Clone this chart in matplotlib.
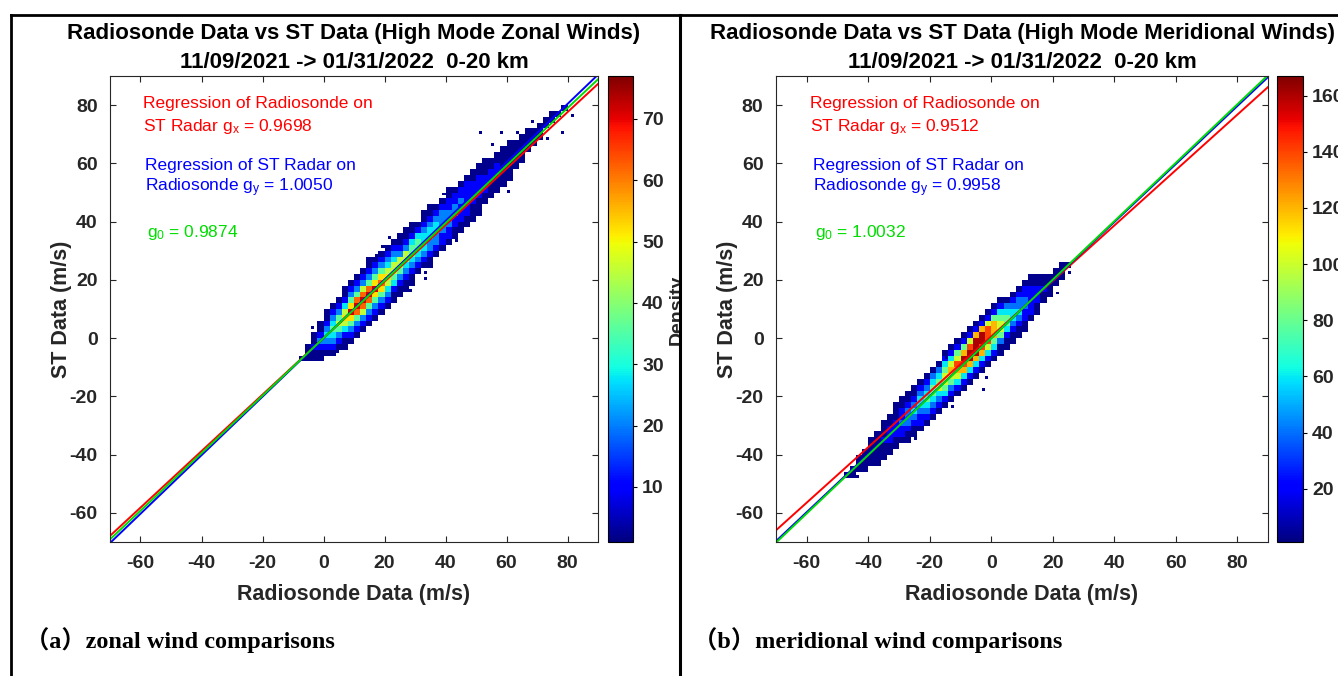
import numpy as np
import matplotlib
matplotlib.use("Agg")
import matplotlib.pyplot as plt
from matplotlib.transforms import Bbox, TransformedBbox

plt.rcParams["font.family"] = ["Liberation Sans", "DejaVu Sans"]
plt.rcParams["font.weight"] = "bold"
plt.rcParams["axes.titleweight"] = "bold"
plt.rcParams["axes.labelweight"] = "bold"
plt.rcParams["axes.unicode_minus"] = False
plt.rcParams["mathtext.default"] = "regular"

# ---- data ----
AX_MIN, AX_MAX = -70, 90
TICKS = [-60, -40, -20, 0, 20, 40, 60, 80]

# density band, one string per 2 m/s x-column, chars = level for (y - x) offsets -12..+12 step 2
ZONAL_X0 = -8
ZONAL_COLS = [
    "0000001000000",
    "0000011100000",
    "0000112110000",
    "0001123211000",
    "0001234321100",
    "0012345432100",
    "0012356532100",
    "0112467642110",
    "0123579753210",
    "0123589853210",
    "0123689863210",
    "0123589853211",
    "0123579753210",
    "0123578753210",
    "0123467643210",
    "0112456643210",
    "0112356632110",
    "0112346632110",
    "0112345542110",
    "0012345542100",
    "0012344432110",
    "0112334432110",
    "0012334432100",
    "0012233332100",
    "0012233322110",
    "0011223322100",
    "0011222322100",
    "0011222222100",
    "0011122221100",
    "0011122221100",
    "0001122211100",
    "0001112211000",
    "0001112211000",
    "0001111111000",
    "0001111111000",
    "0000111110000",
    "0000111110000",
    "0000011110000",
    "0000011100000",
    "0000011100000",
    "0000001100000",
    "0000001100000",
    "0000001000000",
    "0000001000000",
]
ZONAL_LEVELS = [0, 2, 10, 20, 28, 36, 45, 52, 62, 72]
ZONAL_OUT_X = [51.6, 58.5, 63.4, 55.6, 78.5, 81.5, 68.4, 73.6, 60.5, 39.5, 43.8, 33.6, 33.6, 28.4, 21.8, 19.5, 17.5, 3.1, 4.8, -3.4]
ZONAL_OUT_Y = [70.7, 70.7, 70.7, 66.6, 70.7, 76.6, 74.5, 68.7, 50.5, 49.5, 33.3, 22.3, 20.6, 16.2, 34.7, 31.3, 28.5, -4.4, -4.4, 3.5]

MERID_X0 = -48
MERID_COLS = [
    "0000001000000",
    "0000011000000",
    "0000011100000",
    "0000111100000",
    "0000111110000",
    "0001111110000",
    "0001112111000",
    "0001122211000",
    "0001122211100",
    "0001223221100",
    "0011233321100",
    "0011234321100",
    "0012234432100",
    "0012345432100",
    "0012345543100",
    "0012346543100",
    "0012456654210",
    "0012356764210",
    "0012467865210",
    "0012478975210",
    "0012479986210",
    "0012479997210",
    "0012478997210",
    "0012468886210",
    "0012457775210",
    "0011356654210",
    "0011245543100",
    "0011234432100",
    "0011234332100",
    "0011223322100",
    "0001222221100",
    "0001122211000",
    "0000112110000",
    "0000111100000",
    "0000011100000",
    "0000011100000",
    "0000001000000",
]
MERID_LEVELS = [0, 3, 20, 40, 60, 80, 100, 120, 140, 160]
MERID_OUT_X = [-26.2, -24.2, -37.2, -34.9, -44.0, -32.3, -12.2, -2.8, -14.1, -1.1, 21.9, 25.2]
MERID_OUT_Y = [-19.5, -34.3, -32.2, -32.2, -47.7, -39.0, -24.0, -17.5, -6.5, -13.3, 15.8, 22.7]

# regression lines: red, blue, green
ZONAL_SLOPES = [0.9698, 1.0050, 0.9874]
ZONAL_INTERCEPTS = [0.0, 0.0, 0.0]
MERID_SLOPES = [0.9512, 0.9958, 1.0032]
MERID_INTERCEPTS = [0.6, 0.0, 0.0]
LINE_COLORS = ["#ff0000", "#0000ff", "#00dd00"]

ZONAL_TEXT = [["Regression of Radiosonde on", "ST Radar g$_x$ = 0.9698"],
              ["Regression of ST Radar on", "Radiosonde g$_y$ = 1.0050"],
              ["g$_0$ = 0.9874"]]
MERID_TEXT = [["Regression of Radiosonde on", "ST Radar g$_x$ = 0.9512"],
              ["Regression of ST Radar on", "Radiosonde g$_y$ = 0.9958"],
              ["g$_0$ = 1.0032"]]

ZONAL_VMAX, MERID_VMAX = 77, 167
ZONAL_CTICKS = [10, 20, 30, 40, 50, 60, 70]
MERID_CTICKS = [20, 40, 60, 80, 100, 120, 140, 160]


def build_grid(cols, x0, levels, out_x, out_y):
    n = AX_MAX - AX_MIN
    H = np.zeros((n, n))
    for i, s in enumerate(cols):
        xc = x0 + 2 * i
        for k, ch in enumerate(s):
            lv = int(ch)
            if lv == 0:
                continue
            yc = xc + 2 * (k - 6)
            ix, iy = xc - AX_MIN, yc - AX_MIN
            H[iy:iy + 2, ix:ix + 2] = levels[lv]
    for x, y in zip(out_x, out_y):
        H[int(np.floor(y)) - AX_MIN, int(np.floor(x)) - AX_MIN] = levels[1]
    return np.ma.masked_equal(H, 0)


W, Hpx = 1338, 676
fig = plt.figure(figsize=(W / 100, Hpx / 100), dpi=100)


def fx(px):
    return px / W


def fy(py):
    return 1 - py / Hpx


edges = np.arange(AX_MIN, AX_MAX + 1)
xx = np.array([AX_MIN, AX_MAX])
panels = [
    dict(ax_l=110, ax_r=598, cb_l=608, cb_r=633, cols=ZONAL_COLS, x0=ZONAL_X0, levels=ZONAL_LEVELS,
         ox=ZONAL_OUT_X, oy=ZONAL_OUT_Y, vmax=ZONAL_VMAX, cticks=ZONAL_CTICKS, slopes=ZONAL_SLOPES,
         icpt=ZONAL_INTERCEPTS, text=ZONAL_TEXT, tx=[-59.2, -58.5, -57.9],
         title="Radiosonde Data vs ST Data (High Mode Zonal Winds)\n11/09/2021 -> 01/31/2022  0-20 km",
         cap="（a）zonal wind comparisons", cap_x=25),
    dict(ax_l=776, ax_r=1268, cb_l=1277, cb_r=1303, cols=MERID_COLS, x0=MERID_X0, levels=MERID_LEVELS,
         ox=MERID_OUT_X, oy=MERID_OUT_Y, vmax=MERID_VMAX, cticks=MERID_CTICKS, slopes=MERID_SLOPES,
         icpt=MERID_INTERCEPTS, text=MERID_TEXT, tx=[-58.9, -57.9, -57.3],
         title="Radiosonde Data vs ST Data (High Mode Meridional Winds)\n11/09/2021 -> 01/31/2022  0-20 km",
         cap="（b）meridional wind comparisons", cap_x=693),
]

top, bot = 76, 542
for p in panels:
    ax = fig.add_axes([fx(p["ax_l"]), fy(bot), fx(p["ax_r"] - p["ax_l"]), (bot - top) / Hpx])
    cax = fig.add_axes([fx(p["cb_l"]), fy(bot), fx(p["cb_r"] - p["cb_l"]), (bot - top) / Hpx])
    grid = build_grid(p["cols"], p["x0"], p["levels"], p["ox"], p["oy"])
    mesh = ax.pcolormesh(edges, edges, grid, cmap="jet", vmin=1, vmax=p["vmax"])
    for m, b, c in zip(p["slopes"], p["icpt"], LINE_COLORS):
        ax.plot(xx, m * xx + b, color=c, lw=1.4)
    ax.set_xlim(AX_MIN, AX_MAX)
    ax.set_ylim(AX_MIN, AX_MAX)
    ax.set_xticks(TICKS)
    ax.set_yticks(TICKS)
    ax.tick_params(direction="in", top=True, right=True, length=4, width=0.8,
                   labelsize=14, labelcolor="#262626", color="#262626", pad=9)
    for lbl in ax.get_xticklabels() + ax.get_yticklabels():
        lbl.set_fontweight("bold")
    for sp in ax.spines.values():
        sp.set_color("#262626")
        sp.set_linewidth(0.8)
    ax.set_xlabel("Radiosonde Data (m/s)", fontsize=15.5, fontweight="bold", color="#262626", labelpad=9)
    ax.set_ylabel("ST Data (m/s)", fontsize=15.5, fontweight="bold", color="#262626", labelpad=-2)
    ax.set_title(p["title"], fontsize=16, fontweight="bold", linespacing=1.5, pad=6)

    # annotations
    ys = [[80.7, 72.8], [59.4, 51.5], [36.1]]
    for lines, yv, tx, c in zip(p["text"], ys, p["tx"], LINE_COLORS):
        for s, y in zip(lines, yv):
            ax.text(tx, y, s, color=c, fontsize=12.5, fontweight="normal", va="center", ha="left")

    cb = fig.colorbar(mesh, cax=cax)
    cb.set_ticks(p["cticks"])
    cb.outline.set_linewidth(0.8)
    cb.ax.tick_params(labelsize=14, labelcolor="#262626", length=3, width=0.8, direction="out")
    for lbl in cb.ax.get_yticklabels():
        lbl.set_fontweight("bold")

    fig.text(fx(p["cap_x"]), fy(640), p["cap"], fontsize=17.5, fontweight="bold",
             family=["Liberation Serif", "Noto Sans CJK SC"], va="center", ha="left")

# clipped colorbar label of the left panel
dens = fig.text(fx(669), fy(310), "Density", rotation=90, fontsize=14, fontweight="bold",
                color="#262626", ha="left", va="center")
dens.set_clip_box(TransformedBbox(Bbox([[0, 0], [fx(679), 1]]), fig.transFigure))
dens.set_clip_on(True)

# panel frames
fig.add_artist(plt.Line2D([fx(11), 1], [fy(15), fy(15)], color="black", lw=2))
fig.add_artist(plt.Line2D([fx(11), fx(11)], [0, fy(15)], color="black", lw=2))
fig.add_artist(plt.Line2D([fx(680), fx(680)], [0, fy(15)], color="black", lw=2.2))

fig.savefig("out.png", dpi=100)
